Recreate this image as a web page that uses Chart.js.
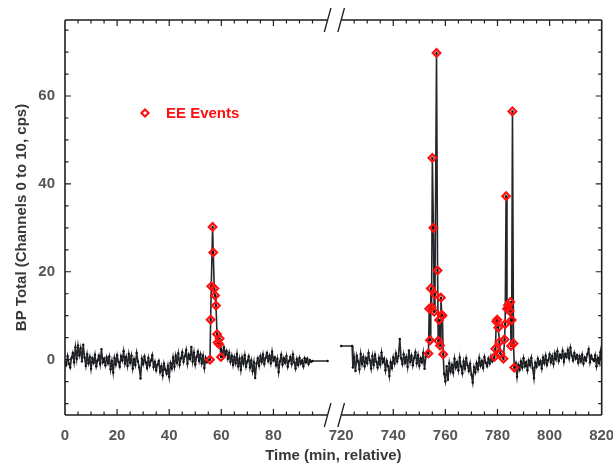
<!DOCTYPE html>
<html><head><meta charset="utf-8">
<script src="https://cdn.jsdelivr.net/npm/chart.js@4/dist/chart.umd.min.js"></script>
<style>html,body{margin:0;padding:0;background:#fff;}</style>
</head><body>
<canvas id="c" width="613" height="468"></canvas>
<script>
// ---- tick labels ----
const xTickValues = [0, 20, 40, 60, 80, 720, 740, 760, 780, 800, 820];
const yTickValues = [0, 20, 40, 60];

// ---- sampling of the background series (min) ----
const noiseStep = 0.5;

// segment A (0 .. ~101 min)
const preAStart = 0;
const preA = [
 -0.5,-1.2,0.8,-0.9,-1.8,0.4,1.5,-0.6,2.8,0.2,
 3.2,1.0,2.6,-0.4,3.4,0.5,-1.4,1.2,-0.8,0.6,
 -2.1,0.3,-0.7,1.1,-1.5,-0.2,0.9,-1.0,2.4,-0.6,
 0.2,-1.3,0.5,-0.8,0.7,-2.2,-0.3,-2.9,0.4,-1.1,
 1.0,-0.5,-1.6,0.8,-0.2,1.9,-0.9,0.6,-1.4,1.3,
 -0.7,0.9,-2.0,0.1,-1.2,1.5,-0.4,-1.8,-4.3,0.2,
 -1.0,0.7,-0.6,-1.9,0.4,-1.3,-0.2,1.0,-1.7,-0.5,
 -2.4,-1.1,-0.3,-2.8,-1.5,-3.6,-0.9,-2.3,-3.2,-1.4,
 -3.9,-0.8,-2.0,0.5,-1.6,0.9,-0.7,1.4,-1.2,0.3,
 1.7,-0.5,0.8,2.2,-0.9,1.1,0.2,2.9,-0.4,1.6,
 -1.1,0.6,1.8,-0.3,1.2,-0.8,0.9,-1.9,0.4,-0.6,
 -0.2
];
const eeAT = [55.65, 55.9, 56.15, 56.65, 56.9, 57.3, 57.6, 57.95, 58.35, 58.6, 59.1, 59.35, 59.85];
const eeAV = [0.0, 9.1, 16.7, 30.2, 24.4, 16.2, 14.6, 12.3, 5.8, 3.9, 3.5, 4.8, 0.6];
const postAStart = 60;
const postA = [
 2.3,0.8,2.8,1.1,2.0,0.2,1.6,-0.5,0.9,-1.2,
 0.6,-0.8,1.3,-1.5,0.2,-2.3,0.5,-0.9,1.0,-1.6,
 -0.4,0.7,-1.8,-0.2,-2.6,-0.6,-4.2,-0.9,0.3,-1.4,
 0.8,-0.5,1.2,-1.0,0.4,1.5,-0.3,0.9,-0.8,1.8,
 -0.2,0.5,-1.3,0.2,-2.8,-0.4,1.1,-1.1,0.3,-0.7,
 0.8,-1.6,-0.3,0.6,-1.0,1.2,-0.6,-2.0,0.1,-1.2,
 0.4,-0.9,-0.2,-1.5,0.3,-0.6,0.2,-1.0,-0.1,-0.5,
 -0.3
];
const flatAEnd = 100.8, flatAVal = -0.3;

// segment B (720 .. 820 min)
const flatBStart = 720, flatBEnd = 724.2, flatBVal = 3.1;
const preBStart = 724.5;
const preB = [
 -1.8,0.5,-2.6,0.9,-0.4,-2.2,1.3,-1.0,0.6,-1.5,
 0.3,-0.8,1.5,-0.2,-2.0,0.8,-1.2,1.1,-0.5,-1.8,
 0.4,-1.1,1.6,-0.6,0.2,-2.4,-0.3,-1.5,-3.7,-0.6,
 -1.9,0.5,-0.9,1.4,-0.4,0.8,4.7,0.3,-1.0,1.2,
 -0.7,0.6,-1.6,2.1,-0.5,0.9,-1.3,0.4,1.7,-0.8,
 1.0,-1.4,0.3,-0.6,1.5,-2.1,0.7,1.5
];
const eeB1T = [753.5, 753.8, 754.1, 754.4, 754.7, 755.0, 755.4, 755.7, 756.0, 756.6, 757.0, 757.25, 757.6, 757.95, 758.3, 758.6, 758.85, 759.15];
const eeB1V = [1.4, 11.6, 4.4, 16.2, 11.9, 45.9, 30.0, 10.9, 14.8, 69.8, 20.3, 4.3, 9.0, 3.2, 14.1, 10.2, 10.0, 1.2];
const midBStart = 759.5;
const midB = [
 -3.2,-4.9,-1.5,-4.6,-0.8,-2.7,-1.2,-3.0,0.2,-1.8,
 -0.6,-2.4,0.5,-1.5,-3.1,-0.4,-2.0,0.3,-1.3,-2.6,
 -0.9,-3.4,-5.2,-1.7,-2.9,-0.8,-2.2,0.4,-1.4,-0.3,
 -1.9,0.6,-0.7,-1.5,0.2,-0.9,0.8,-0.4,0.3
];
const eeB2T = [778.8, 779.2, 779.55, 779.9, 780.3, 780.75, 781.1, 782.3, 782.7, 782.95, 783.3, 783.65, 784.0, 784.65, 784.9, 785.2, 785.45, 785.75, 786.15, 786.45];
const eeB2V = [0.6, 2.5, 8.7, 9.1, 7.3, 4.0, 1.4, 0.2, 4.6, 8.1, 37.2, 11.6, 12.4, 11.1, 13.1, 3.1, 9.0, 56.5, 3.7, -1.8];
const postBStart = 787;
const postB = [
 -0.8,-3.9,-1.2,-2.3,-0.4,-1.8,0.3,-1.5,-0.6,-2.4,
 -0.2,-1.3,0.4,-1.9,-4.2,-0.7,-1.6,0.2,-1.1,-0.3,
 -2.0,0.5,-0.8,0.9,-1.2,-0.1,1.2,-0.6,0.8,-1.0,
 1.4,0.1,1.9,-0.3,1.1,0.4,2.0,-0.5,1.3,0.6,
 2.2,0.3,2.7,0.9,-0.2,1.5,0.2,1.0,-0.7,0.8,
 -0.4,1.1,-0.9,0.5,-0.2,1.3,2.4,-0.6,0.9,0.1,
 -0.3,1.0,-1.5,0.4,-0.8,1.7,-1.3
];

// ---- broken time axis: map real minutes to a continuous axis value ----
const BREAK_HI = 720, AXIS_SHIFT = 614;
function vx(t) { return t >= BREAK_HI - 10 ? t - AXIS_SHIFT : t; }
function seg(start, vals) { return vals.map((v, i) => ({ x: vx(start + i * noiseStep), y: v })); }
function pairs(ts, vs) { return ts.map((t, i) => ({ x: vx(t), y: vs[i] })); }

const lineData = [
  ...seg(preAStart, preA),
  ...pairs(eeAT, eeAV),
  ...seg(postAStart, postA),
  { x: vx(flatAEnd), y: flatAVal },
  { x: (vx(flatAEnd) + vx(flatBStart)) / 2, y: null },
  { x: vx(flatBStart), y: flatBVal },
  { x: vx(flatBEnd), y: flatBVal },
  ...seg(preBStart, preB),
  ...pairs(eeB1T, eeB1V),
  ...seg(midBStart, midB),
  ...pairs(eeB2T, eeB2V),
  ...seg(postBStart, postB)
];
const eeData = [...pairs(eeAT, eeAV), ...pairs(eeB1T, eeB1V), ...pairs(eeB2T, eeB2V)];

const FONT = "'Liberation Sans', Arial, Helvetica, sans-serif";
const AXIS_COLOR = '#1e1e1e';
const EE_COLOR = '#ff1010';

const framePlugin = {
  id: 'frame',
  afterDatasetsDraw(chart) {
    const { ctx, chartArea: { left, right, top, bottom }, scales: { x, y } } = chart;
    const b1 = x.getPixelForValue(vx(flatAEnd));
    const b2 = x.getPixelForValue(vx(BREAK_HI));
    ctx.save();
    ctx.strokeStyle = AXIS_COLOR;
    ctx.lineWidth = 1.6;
    ctx.beginPath();
    ctx.moveTo(left, top); ctx.lineTo(left, bottom);
    ctx.moveTo(right, top); ctx.lineTo(right, bottom);
    for (const yy of [top, bottom]) {
      ctx.moveTo(left, yy); ctx.lineTo(b1, yy);
      ctx.moveTo(b2, yy); ctx.lineTo(right, yy);
    }
    ctx.stroke();
    ctx.lineWidth = 1.3;
    ctx.beginPath();
    for (const yy of [top, bottom]) for (const bx of [b1, b2]) {
      ctx.moveTo(bx - 3.3, yy + 12); ctx.lineTo(bx + 3.3, yy - 12);
    }
    ctx.stroke();
    // inward ticks
    ctx.lineWidth = 1.2;
    ctx.beginPath();
    const xt = [];
    for (let t = 5; t <= 95; t += 5) xt.push(t);
    for (let t = 725; t <= 815; t += 5) xt.push(t);
    for (const t of xt) {
      const px = x.getPixelForValue(vx(t));
      const len = (t % 20 === 0) ? 6 : 3.5;
      ctx.moveTo(px, bottom); ctx.lineTo(px, bottom - len);
      ctx.moveTo(px, top); ctx.lineTo(px, top + len);
    }
    for (let v = -10; v <= 75; v += 5) {
      const py = y.getPixelForValue(v);
      const len = yTickValues.includes(v) ? 6 : 3.5;
      ctx.moveTo(left, py); ctx.lineTo(left + len, py);
      ctx.moveTo(right, py); ctx.lineTo(right - len, py);
    }
    ctx.stroke();
    ctx.restore();
  },
  afterDraw(chart) {
    const ctx = chart.ctx;
    ctx.save();
    // legend
    const lx = 145, ly = 113, r = 3.6;
    ctx.strokeStyle = EE_COLOR; ctx.lineWidth = 2.1;
    ctx.beginPath();
    ctx.moveTo(lx, ly - r); ctx.lineTo(lx + r, ly); ctx.lineTo(lx, ly + r); ctx.lineTo(lx - r, ly); ctx.closePath();
    ctx.stroke();
    ctx.fillStyle = EE_COLOR;
    ctx.font = "bold 15px " + FONT;
    ctx.textBaseline = 'middle';
    ctx.textAlign = 'left';
    ctx.fillText(chart.data.datasets[0].label, 166, ly + 0.5);
    ctx.restore();
  }
};

new Chart(document.getElementById('c'), {
  type: 'line',
  data: {
    datasets: [
      {
        label: 'EE Events',
        type: 'scatter',
        data: eeData,
        showLine: false,
        pointStyle: 'rectRot',
        pointRadius: 3.8,
        borderColor: EE_COLOR,
        backgroundColor: 'rgba(0,0,0,0)',
        borderWidth: 2.2
      },
      {
        label: 'BP Total',
        data: lineData,
        borderColor: '#23262b',
        borderWidth: 1.6,
        pointRadius: 1.2,
        pointBackgroundColor: '#111',
        pointBorderWidth: 0,
        tension: 0,
        spanGaps: false
      }
    ]
  },
  options: {
    responsive: false,
    animation: false,
    devicePixelRatio: 1,
    layout: { padding: { left: 0, right: 11.3, top: 20, bottom: 0 } },
    plugins: { legend: { display: false }, tooltip: { enabled: false } },
    scales: {
      x: {
        type: 'linear',
        min: 0,
        max: vx(820),
        grid: { display: false, drawTicks: false },
        border: { display: false },
        afterBuildTicks: s => { s.ticks = xTickValues.map(t => ({ value: vx(t) })); },
        ticks: {
          autoSkip: false, maxRotation: 0, padding: 12, color: '#555',
          font: { family: FONT, size: 15, weight: 'bold' },
          callback: (val, i) => String(xTickValues[i])
        },
        title: {
          display: true, text: 'Time (min, relative)', color: '#383838',
          font: { family: FONT, size: 15, weight: 'bold' },
          padding: { top: 0, bottom: 3 }
        },
        afterFit: s => { s.height = 53; s.paddingLeft = 0; s.paddingRight = 0; }
      },
      y: {
        min: -12.6,
        max: 77.3,
        grid: { display: false, drawTicks: false },
        border: { display: false },
        afterBuildTicks: s => { s.ticks = yTickValues.map(v => ({ value: v })); },
        ticks: {
          padding: 10, color: '#555',
          font: { family: FONT, size: 15, weight: 'bold' },
          callback: (val, i) => String(yTickValues[i])
        },
        title: {
          display: true, text: 'BP Total (Channels 0 to 10, cps)', color: '#383838',
          font: { family: FONT, size: 15, weight: 'bold' },
          padding: { top: 13, bottom: 0 }
        },
        afterFit: s => { s.width = 65; s.paddingTop = 0; s.paddingBottom = 0; }
      }
    }
  },
  plugins: [framePlugin]
});
</script>
</body></html>
